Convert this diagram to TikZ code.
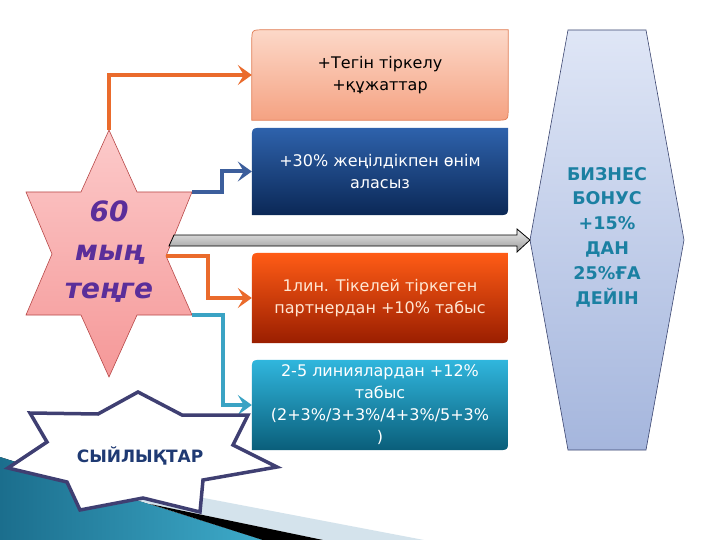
\documentclass[tikz,border=0pt]{standalone}
\usepackage{fontspec}
\setmainfont{DejaVu Sans}
\usetikzlibrary{arrows.meta,backgrounds}
\definecolor{bAtop}{HTML}{FCD8C8}
\definecolor{bAbot}{HTML}{F5A282}
\definecolor{bAline}{HTML}{E07A50}
\definecolor{bBtop}{HTML}{2E62AC}
\definecolor{bBbot}{HTML}{0B2856}
\definecolor{bCtop}{HTML}{FF5C16}
\definecolor{bCbot}{HTML}{9A1E00}
\definecolor{bCtext}{HTML}{FFE6D2}
\definecolor{bDtop}{HTML}{30B6DD}
\definecolor{bDbot}{HTML}{0A5E7A}
\definecolor{hxtop}{HTML}{DFE6F6}
\definecolor{hxbot}{HTML}{A5B6DD}
\definecolor{hxline}{HTML}{3C4670}
\definecolor{hxtext}{HTML}{1B80A2}
\definecolor{sttop}{HTML}{FCCACA}
\definecolor{stbot}{HTML}{F59898}
\definecolor{stline}{HTML}{B84848}
\definecolor{sttext}{HTML}{5B2E9A}
\definecolor{corange}{HTML}{EA6B2C}
\definecolor{cblue}{HTML}{3C5E9C}
\definecolor{cteal}{HTML}{3AA3C4}
\definecolor{bzline}{HTML}{3F3F72}
\definecolor{bztext}{HTML}{1F3A73}
\definecolor{tealA}{HTML}{1B6E8D}
\definecolor{tealB}{HTML}{3EABCA}
\definecolor{lband}{HTML}{D4E3EC}
\newcommand\dgbox[2]{\path[#2] (#1.south west) -- ([yshift=-12pt]#1.north west) .. controls (#1.north west) .. ([xshift=12pt]#1.north west) -- (#1.north east) -- ([yshift=12pt]#1.south east) .. controls (#1.south east) .. ([xshift=-12pt]#1.south east) -- cycle;}
\begin{document}
\begin{tikzpicture}[x=1pt,y=-1pt,
  conn/.style={line width=4pt,-{Stealth[length=14pt,width=20pt,inset=6pt]}},
  boxtxt/.style={minimum width=256pt,inner sep=0pt,align=center,font=\fontsize{16}{22}\selectfont},
]
\useasboundingbox (0,0) rectangle (720,540);
% text nodes of the four boxes
\node[boxtxt,minimum height=90pt,text=black] (b1) at (380,75) {+Тегін тіркелу\\+құжаттар};
\node[boxtxt,minimum height=87pt,text=white] (b2) at (380,171.5) {+30\% жеңілдікпен өнім\\аласыз};
\node[boxtxt,minimum height=90pt,text=bCtext] (b3) at (380,298) {1лин. Тікелей тіркеген\\партнердан +10\% табыс};
\node[boxtxt,minimum height=90pt,text=white] (b4) at (380,405) {2-5 линиялардан +12\%\\табыс\\(2+3\%/3+3\%/4+3\%/5+3\%\\)};
\begin{scope}[on background layer]
  \fill[white] (0,0) rectangle (720,540);
  \fill[left color=tealA,right color=tealB] (0,457) -- (263,540) -- (0,540) -- cycle;
  \fill[lband] (120,482) -- (424,540) -- (323,540) -- (150,504) -- (120,495) -- cycle;
  \fill[black] (150,504) -- (323,540) -- (263,540) -- cycle;
  \dgbox{b1}{draw=bAline,line width=0.7pt,top color=bAtop,bottom color=bAbot}
  \dgbox{b2}{top color=bBtop,bottom color=bBbot}
  \dgbox{b3}{top color=bCtop,bottom color=bCbot}
  \dgbox{b4}{top color=bDtop,bottom color=bDbot}
\end{scope}
% hexagon
\coordinate (hxW) at (530,240);
\path[draw=hxline,line width=0.6pt,top color=hxtop,bottom color=hxbot]
  (568,30) -- (646,30) -- (684,240) -- (646,450) -- (568,450) -- (hxW) -- cycle;
\node[text=hxtext,align=center,font=\fontsize{17.5}{24.8}\selectfont\bfseries] (hx) at (607,237)
  {БИЗНЕС\\БОНУС\\+15\%\\ДАН\\25\%ҒА\\ДЕЙІН};
% star
\coordinate (sT) at (109,130);
\coordinate (sUR) at (192,192);
\coordinate (sRi) at (166,256);
\coordinate (sLR) at (192,315);
\path[draw=stline,line width=0.6pt,top color=sttop,bottom color=stbot]
  (sT) -- (137,192) -- (sUR) -- (sRi) -- (sLR) -- (137,315) -- (109,377) -- (81,315)
  -- (26,315) -- (52,254) -- (26,192) -- (81,192) -- cycle;
\node[text=sttext,align=center,font=\fontsize{28}{38.5}\selectfont\bfseries\itshape] (st) at (109,252)
  {60\\мың\\теңге};
% gray arrow
\path[draw=black,line width=0.8pt,top color=white!92!black,bottom color=black!40]
  (174,235) -- (517,235) -- (517,229) -- (hxW) -- (517,252) -- (517,246) -- (169,246) -- cycle;
% connectors
\draw[conn,corange] (sT) -- (109,75) -- (b1.west);
\draw[conn,cblue] (sUR) -- (222,192) -- (222,171.5) -- (b2.west);
\draw[conn,corange] (sRi) -- (208,256) -- (208,298) -- (b3.west);
\draw[conn,cteal] (sLR) -- (223,315) -- (223,405) -- (b4.west);
% burst
\path[draw=bzline,line width=3.5pt,fill=white,line join=miter]
  (30,413) -- (98,414) -- (138,392) -- (182,415) -- (248,415) -- (233,445) -- (277,467)
  -- (203,480) -- (200,512) -- (143,498) -- (80,510) -- (67,482) -- (8,468) -- (47,442) -- cycle;
\node[text=bztext,font=\fontsize{17}{22}\selectfont\bfseries] (bz) at (140,456) {СЫЙЛЫҚТАР};
\end{tikzpicture}
\end{document}
